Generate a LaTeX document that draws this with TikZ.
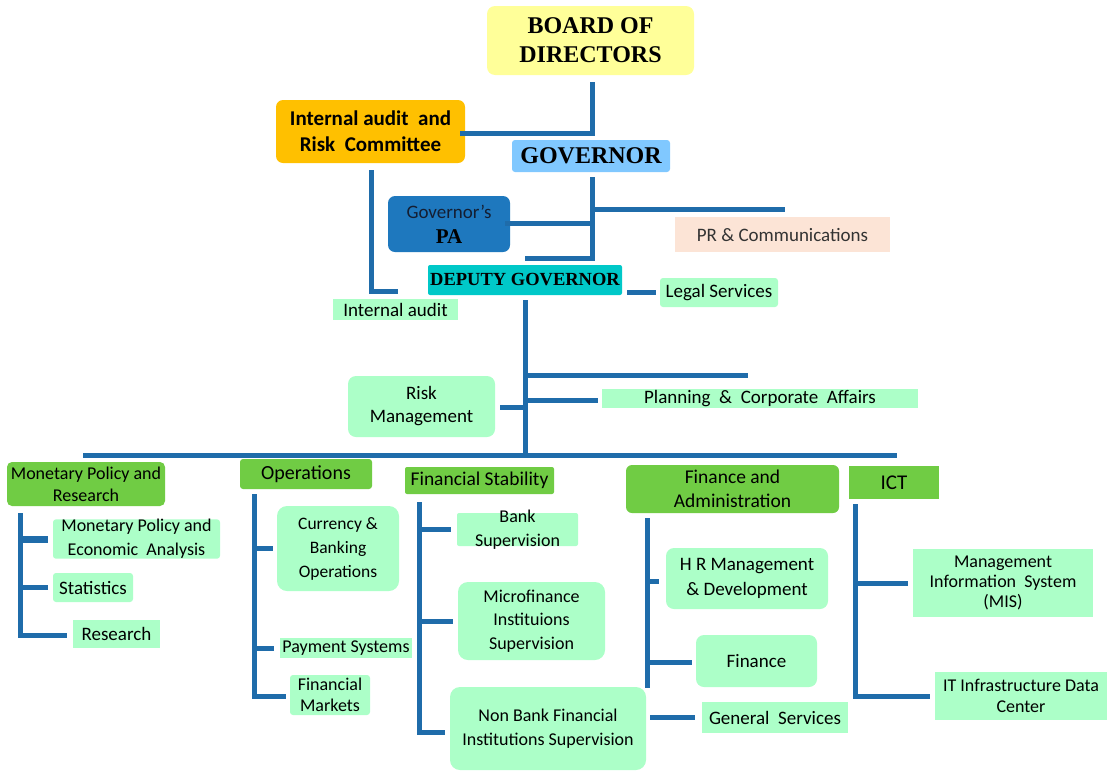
\documentclass[tikz,border=0pt]{standalone}
\usepackage{fontspec}
\setmainfont{Carlito}
\newfontfamily\cambria{Liberation Serif}
\newcommand{\fsz}[2]{\fontsize{#1}{#2}\selectfont}
\definecolor{yellowc}{RGB}{255,255,153}
\definecolor{orangec}{RGB}{255,192,0}
\definecolor{govc}{RGB}{128,200,255}
\definecolor{pac}{RGB}{30,120,190}
\definecolor{tealc}{RGB}{0,200,200}
\definecolor{peachc}{RGB}{252,228,214}
\definecolor{mintc}{RGB}{172,255,200}
\definecolor{greenc}{RGB}{112,204,68}
\definecolor{linec}{RGB}{31,108,170}
\begin{document}
\begin{tikzpicture}[x=1pt,y=-1pt,
  base/.style={inner sep=0pt, align=center, text=black},
  mint/.style={base, fill=mintc},
  grn/.style={base, fill=greenc},
  conn/.style={draw=linec, line width=5pt}]
\useasboundingbox (0,0) rectangle (1107,774);
\fill[white] (0,0) rectangle (1107,774);

% ---- top level
\node[base, fill=yellowc, rounded corners=8pt, minimum width=207, minimum height=69,
  font={\cambria\bfseries\fsz{24}{29}}]
  (board) at (590.5,40.5) {BOARD OF\\DIRECTORS};
\node[base, fill=orangec, rounded corners=7pt, minimum width=189, minimum height=63,
  font={\bfseries\fsz{21}{26}}]
  (iarc) at (370.5,131.5) {Internal audit\ \ and\\Risk\ \ Committee};
\node[base, fill=govc, rounded corners=3pt, minimum width=158, minimum height=32,
  font={\cambria\bfseries\fsz{24}{27}}]
  (gov) at (591,156) {GOVERNOR};
\node[base, fill=pac, rounded corners=7pt, minimum width=122, minimum height=56,
  font={\fsz{19}{25}}]
  (pa) at (449,224) {\textcolor[RGB]{20,30,50}{Governor's}\\{\cambria\bfseries\fsz{21}{25}PA}};
\node[base, fill=peachc, minimum width=215, minimum height=35, text=black!80,
  font={\fsz{19}{23}}]
  (pr) at (782.5,234.5) {PR \& Communications};
\node[base, fill=tealc, rounded corners=2pt, minimum width=194, minimum height=30,
  font={\cambria\bfseries\fsz{18.5}{22}}]
  (dg) at (525,280) {DEPUTY GOVERNOR};
\node[mint, minimum width=125, minimum height=21, font={\fsz{19}{23}}]
  (ia) at (395.5,309.5) {Internal audit};
\node[mint, rounded corners=3pt, minimum width=118, minimum height=29, font={\fsz{19}{23}}]
  (legal) at (719,292.5) {Legal Services};
\node[mint, rounded corners=8pt, minimum width=147, minimum height=61, font={\fsz{19}{23}}]
  (risk) at (421.5,406.5) {Risk\\Management};
\node[mint, minimum width=316, minimum height=19, font={\fsz{19}{23}}]
  (plan) at (760,398.5) {Planning\ \ \&\ \ Corporate\ \ Affairs};

% ---- departments
\node[grn, rounded corners=5pt, minimum width=158, minimum height=44, font={\fsz{18}{22}}]
  (mpr) at (86,484) {Monetary Policy and\\Research};
\node[grn, rounded corners=3pt, minimum width=132, minimum height=30, font={\fsz{20}{24}}]
  (ops) at (306,474) {Operations};
\node[grn, rounded corners=2pt, minimum width=149, minimum height=27, font={\fsz{19.5}{23}}]
  (fs) at (479.5,480.5) {Financial Stability};
\node[grn, rounded corners=6pt, minimum width=213, minimum height=48, font={\fsz{19.5}{24}}]
  (fa) at (732.5,489) {Finance and\\Administration};
\node[grn, minimum width=90, minimum height=33, font={\fsz{21}{24}}]
  (ict) at (894,482.5) {ICT};

% ---- units
\node[mint, rounded corners=3pt, minimum width=167, minimum height=38, font={\fsz{18}{24}}]
  (mpea) at (136.5,539) {Monetary Policy and\\Economic\ \ Analysis};
\node[mint, rounded corners=3pt, minimum width=80, minimum height=29, font={\fsz{19}{23}}]
  (stat) at (93,587.5) {Statistics};
\node[mint, minimum width=87, minimum height=28, font={\fsz{19}{23}}]
  (res) at (116.5,634) {Research};
\node[mint, rounded corners=10pt, minimum width=122, minimum height=85, font={\fsz{17.5}{24}}]
  (cbo) at (338,548.5) {Currency \&\\Banking\\Operations};
\node[mint, minimum width=132, minimum height=20, font={\fsz{18}{22}}]
  (pay) at (346,648) {Payment Systems};
\node[mint, rounded corners=3pt, minimum width=80, minimum height=40, font={\fsz{18}{21}}]
  (fm) at (330,695) {Financial\\Markets};
\node[mint, rounded corners=2pt, minimum width=121, minimum height=33]
  (bank) at (517.5,529.5) {};
\node[base, font={\fsz{18}{24}}] at (bank) {Bank\\Supervision};
\node[mint, rounded corners=10pt, minimum width=147, minimum height=78, font={\fsz{18}{23.5}}]
  (micro) at (531.5,621) {Microfinance\\Instituions\\Supervision};
\node[mint, rounded corners=10pt, minimum width=196, minimum height=83, font={\fsz{18}{24}}]
  (nbfi) at (548,728.5) {Non Bank Financial\\Institutions Supervision};
\node[mint, rounded corners=8pt, minimum width=162, minimum height=61, font={\fsz{19}{25}}]
  (hr) at (747,578.5) {H R Management\\\& Development};
\node[mint, rounded corners=8pt, minimum width=121, minimum height=52, font={\fsz{19}{23}}]
  (fin) at (756.5,661) {Finance};
\node[mint, minimum width=146, minimum height=31, font={\fsz{19}{23}}]
  (gs) at (775,717.5) {General\ \ Services};
\node[mint, minimum width=180, minimum height=68, font={\fsz{18}{20}}]
  (mis) at (1003,583) {Management\\Information\ \ System\\(MIS)};
\node[mint, minimum width=172, minimum height=48, font={\fsz{18}{21}}]
  (itdc) at (1021,696) {IT Infrastructure Data\\Center};

% ---- connectors: top
\coordinate (jb) at (592,133);
\draw[conn, shorten <=7pt, shorten >=-5pt] (board.south -| jb) -- (jb) -- (iarc.east |- jb);
\coordinate (g1) at (592,209);
\coordinate (g2) at (592,223);
\coordinate (g3) at (592,258);
\coordinate (prend) at (785,209);
\draw[conn, shorten <=5pt] (gov.south -| g3) -- (g3) -- (g3 -| dg.north);
\draw[conn] (g1) -- (prend);
\draw[conn, shorten >=-5pt] (g2) -- (pa.east |- g2);
\coordinate (ia1) at (371,291);
\coordinate (ia2) at (398,291);
\draw[conn, shorten <=7pt] (iarc.south -| ia1) -- (ia1) -- (ia2);
\draw[conn, shorten <=5pt, shorten >=4pt] (dg.east |- legal) -- (legal.west);

% ---- deputy governor trunk
\coordinate (d1) at (525,375);
\coordinate (d2) at (525,400);
\coordinate (d3) at (525,407);
\coordinate (dbus) at (525,455);
\coordinate (d1end) at (748,375);
\draw[conn, shorten <=5pt] (dg.south) -- (dbus);
\draw[conn] (d1) -- (d1end);
\draw[conn, shorten >=4pt] (d2) -- (d2 -| plan.west);
\draw[conn, shorten >=5pt] (d3) -- (d3 -| risk.east);
\coordinate (busL) at (83,455);
\coordinate (busR) at (897,455);
\draw[conn] (busL) -- (busR);

% ---- monetary policy
\coordinate (m1) at (20,539);
\coordinate (m2) at (20,587);
\coordinate (m3) at (20,635);
\draw[conn, shorten <=7pt, shorten >=6pt] (mpr.south -| m3) -- (m3) -- (m3 -| res.west);
\draw[conn, line width=7pt, shorten >=5pt] (m1) -- (m1 -| mpea.west);
\draw[conn, shorten >=5pt] (m2) -- (m2 -| stat.west);

% ---- operations
\coordinate (o1) at (254,548);
\coordinate (o2) at (254,648);
\coordinate (o3) at (254,696);
\draw[conn, shorten <=5pt, shorten >=4pt] (ops.south -| o3) -- (o3) -- (o3 -| fm.west);
\draw[conn, shorten >=4pt] (o1) -- (o1 -| cbo.west);
\draw[conn, shorten >=6pt] (o2) -- (o2 -| pay.west);

% ---- financial stability
\coordinate (f1) at (419,529);
\coordinate (f2) at (419,621);
\coordinate (f3) at (419,732);
\draw[conn, shorten <=8pt, shorten >=5pt] (fs.south -| f3) -- (f3) -- (f3 -| nbfi.west);
\draw[conn, shorten >=6pt] (f1) -- (f1 -| bank.west);
\draw[conn, shorten >=5pt] (f2) -- (f2 -| micro.west);

% ---- finance and administration
\coordinate (a1) at (647,581);
\coordinate (a2) at (647,662);
\coordinate (aend) at (647,688);
\draw[conn, shorten <=5pt] (fa.south -| aend) -- (aend);
\draw[conn, shorten >=7pt] (a1) -- (a1 -| hr.west);
\draw[conn, shorten >=4pt] (a2) -- (a2 -| fin.west);
\draw[conn, shorten <=4pt, shorten >=7pt] (nbfi.east |- gs) -- (gs.west);

% ---- ICT
\coordinate (c1) at (855,583);
\coordinate (c2) at (855,696);
\draw[conn, shorten <=5pt, shorten >=5pt] (ict.south -| c2) -- (c2) -- (c2 -| itdc.west);
\draw[conn, shorten >=5pt] (c1) -- (c1 -| mis.west);
\end{tikzpicture}
\end{document}
